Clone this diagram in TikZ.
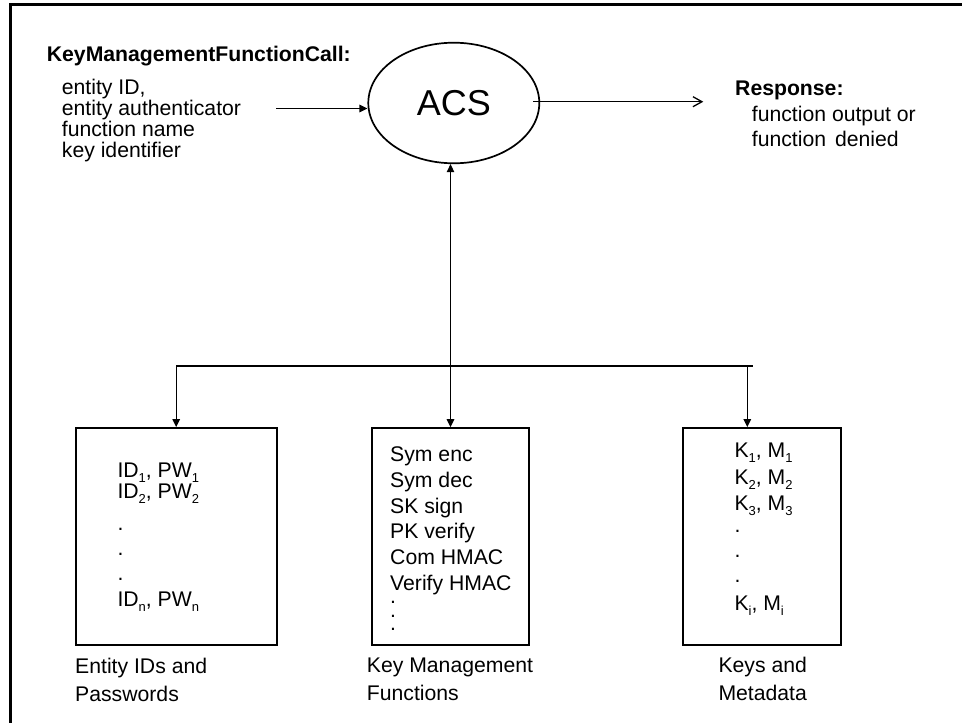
\documentclass[tikz,border=0pt]{standalone}
\usepackage{fontspec}
\setmainfont{Liberation Sans}
\usetikzlibrary{arrows.meta,shapes.geometric}
\newcommand{\bodyfont}{\fontsize{21.2}{21}\selectfont}
\newcommand{\acsfont}{\fontsize{36}{36}\selectfont}
\newcommand{\sbs}[1]{\raisebox{-5pt}{\fontsize{13}{13}\selectfont #1}}
\begin{document}
\begin{tikzpicture}[x=1pt,y=-1pt,
  txt/.style={anchor=base west, inner sep=0pt, font=\bodyfont},
  hdr/.style={anchor=base west, inner sep=0pt, font=\bodyfont\bfseries},
  dots/.style={anchor=north west, inner sep=0pt, align=left, font=\fontsize{21.2}{13.3}\selectfont},
  conn/.style={line width=1.3pt},
  tip/.style={-{Triangle[length=8pt,width=7.5pt]}},
  both/.style={{Triangle[length=8pt,width=7.5pt]}-{Triangle[length=8pt,width=7.5pt]}},
  boxst/.style={draw, line width=2.3pt, inner sep=0pt, minimum height=216.7pt}]
\useasboundingbox (0,0) rectangle (962,723);
% frame
\draw[line width=3pt] (10.8,723) -- (10.8,4.7) -- (962,4.7);
% call text
\node[hdr] (callhd) at (46.7,61) {KeyManagementFunctionCall:};
\node[txt] (call1) at (61.7,94) {entity ID,};
\node[txt] (call2) at (61.7,115) {entity authenticator};
\node[txt] (call3) at (61.7,136) {function name};
\node[txt] (call4) at (61.7,157) {key identifier};
\coordinate (callout) at (276,108.5);
% ACS
\node[draw, ellipse, line width=1.7pt, minimum width=171pt, minimum height=120.6pt,
      inner sep=0pt, font=\acsfont] (acs) at (453.8,103) {ACS};
\draw[conn,tip] (callout) -- (callout -| acs.west);
% response
\node[hdr] (resphd) at (735,95) {Response:};
\node[txt] (resp1) at (751.7,121.7) {function output or};
\node[txt] (resp2) at (751.7,146) {function\hspace{9pt}denied};
\coordinate (respin) at (703.3,101.7);
\coordinate (respout) at ([xshift=-7pt]acs.east);
\draw[conn,-{Straight Barb[length=9pt,width=10pt,line width=1.3pt]}] (respout |- respin) -- (respin);
% boxes
\node[boxst, minimum width=201pt] (box1) at (176.2,536.65) {};
\node[boxst, minimum width=157.6pt] (box2) at (450.5,536.65) {};
\node[boxst, minimum width=157.7pt] (box3) at (762.15,536.65) {};
% connectors
\draw[conn,both] (acs.south -| box2.north) -- (box2.north);
\coordinate (j1) at (176.2,366);
\coordinate (j3) at (747.3,366);
\coordinate (jend) at (752.5,366);
\draw[conn] (j1) -- (jend);
\draw[conn,tip] (j1) -- (j1 |- box1.north);
\draw[conn,tip] (j3) -- (j3 |- box3.north);
% box 1 content
\node[txt] (ba1) at (117.3,477.7) {ID\sbs{1}, PW\sbs{1}};
\node[txt] (ba2) at (117.3,498.3) {ID\sbs{2}, PW\sbs{2}};
\node[txt] (ba3) at (117.3,530.3) {.};
\node[txt] (ba4) at (117.3,555.7) {.};
\node[txt] (ba5) at (117.3,580.3) {.};
\node[txt] (ba6) at (117.3,606.7) {ID\sbs{n}, PW\sbs{n}};
% box 2 content
\node[txt] (bb1) at (390,461.7) {Sym enc};
\node[txt] (bb2) at (390,487.4) {Sym dec};
\node[txt] (bb3) at (390,513.1) {SK sign};
\node[txt] (bb4) at (390,538.8) {PK verify};
\node[txt] (bb5) at (390,564.5) {Com HMAC};
\node[txt] (bb6) at (390,590.2) {Verify HMAC};
\node[dots] (bb7) at (390,601.5) {.\\.\\.};
% box 3 content
\node[txt] (bc1) at (734.3,457.7) {K\sbs{1}, M\sbs{1}};
\node[txt] (bc2) at (734.3,484) {K\sbs{2}, M\sbs{2}};
\node[txt] (bc3) at (734.3,510) {K\sbs{3}, M\sbs{3}};
\node[txt] (bc4) at (734.3,532.7) {.};
\node[txt] (bc5) at (734.3,557.7) {.};
\node[txt] (bc6) at (734.3,582.7) {.};
\node[txt] (bc7) at (734.3,610.7) {K\sbs{i}, M\sbs{i}};
% labels
\node[txt] (la1) at (75,673.3) {Entity IDs and};
\node[txt] (la2) at (75,701.7) {Passwords};
\node[txt] (lb1) at (366.7,672.7) {Key Management};
\node[txt] (lb2) at (366.7,700) {Functions};
\node[txt] (lc1) at (718.3,672.7) {Keys and};
\node[txt] (lc2) at (718.3,700) {Metadata};
\end{tikzpicture}
\end{document}
